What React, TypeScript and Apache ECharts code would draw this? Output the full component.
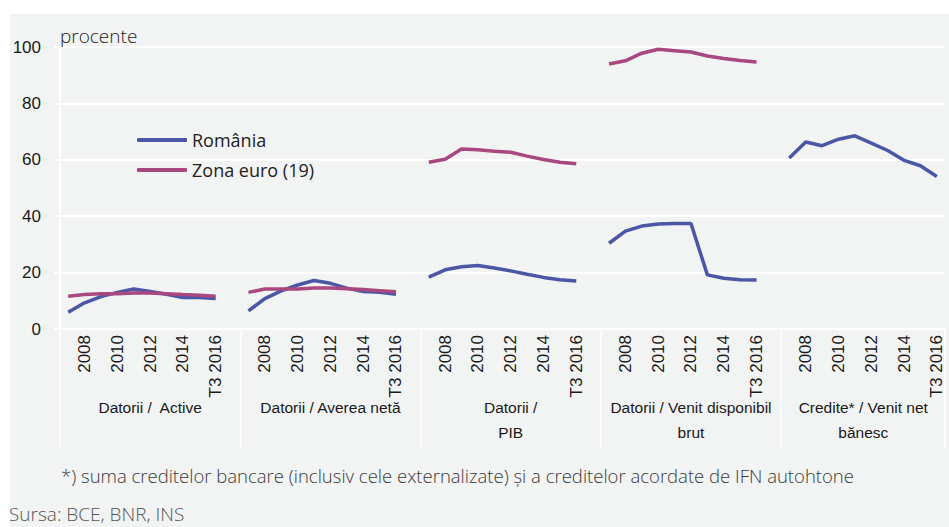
import React, { useEffect, useRef } from "react";
import * as echarts from "echarts";

// Years shown in each panel (2007 is unlabeled in the reference)
const years = ["2007", "2008", "2009", "2010", "2011", "2012", "2013", "2014", "2015", "T3 2016"];
const groupNames = [
  "Datorii /  Active",
  "Datorii / Averea netă",
  "Datorii /\nPIB",
  "Datorii / Venit disponibil\nbrut",
  "Credite* / Venit net\nbănesc",
];

// România
const roActive = [5.9, 9.3, 11.5, 13.0, 14.2, 13.3, 12.3, 11.2, 11.2, 10.8];
const roNet = [6.4, 10.8, 13.5, 15.6, 17.2, 16.2, 14.5, 13.3, 13.0, 12.3];
const roPib = [18.4, 21.0, 22.1, 22.5, 21.6, 20.6, 19.4, 18.3, 17.5, 17.0];
const roVdb = [30.4, 34.7, 36.5, 37.2, 37.4, 37.4, 19.2, 18.0, 17.5, 17.4];
const roCredit = [60.6, 66.3, 65.0, 67.3, 68.5, 65.9, 63.3, 59.8, 57.9, 54.1];

// Zona euro (19)
const euActive = [11.6, 12.2, 12.5, 12.5, 12.8, 12.8, 12.5, 12.2, 12.0, 11.6];
const euNet = [13.0, 14.2, 14.2, 14.2, 14.5, 14.5, 14.3, 14.0, 13.6, 13.2];
const euPib = [59.1, 60.2, 63.8, 63.6, 63.0, 62.7, 61.3, 60.1, 59.1, 58.6];
const euVdb = [94.0, 95.1, 97.8, 99.2, 98.7, 98.2, 96.8, 95.9, 95.2, 94.7];
const euCredit: (number | null)[] = [null, null, null, null, null, null, null, null, null, null];

const GROUP = 11; // 10 years + 1 empty gap slot

function joinGroups(groups: (number | null)[][]): (number | null)[] {
  const out: (number | null)[] = [];
  groups.forEach((g, i) => {
    out.push(...g);
    if (i < groups.length - 1) out.push(null);
  });
  return out;
}

const categories: string[] = [];
const groupAxis: string[] = [];
for (let g = 0; g < 5; g++) {
  years.forEach((y, i) => {
    categories.push(y);
    groupAxis.push(i === 5 ? (g === 4 ? "{g5|" + groupNames[g].split("\n").join("}\n{g5|") + "}" : groupNames[g]) : "");
  });
  if (g < 4) {
    categories.push("");
    groupAxis.push("");
  }
}

const roSeries = joinGroups([roActive, roNet, roPib, roVdb, roCredit]);
const euSeries = joinGroups([euActive, euNet, euPib, euVdb, euCredit]);

const BLUE = "#4b56a6";
const MAGENTA = "#a9477f";
const NARROW = "'Liberation Sans Narrow', 'Arial Narrow', sans-serif";
const SANS = "'Open Sans', 'Noto Sans', sans-serif";

export default function App() {
  const ref = useRef<HTMLDivElement>(null);
  useEffect(() => {
    if (!ref.current) return;
    const chart = echarts.init(ref.current, undefined, { renderer: "svg" });
    chart.setOption({
      animation: false,
      backgroundColor: "transparent",
      title: [
        {
          text: "procente",
          left: 55,
          top: 21,
          textStyle: { fontFamily: SANS, fontSize: 19, fontWeight: 300, color: "#222" },
        },
        {
          text: "*) suma creditelor bancare (inclusiv cele externalizate) și a creditelor acordate de IFN autohtone",
          left: 56,
          top: 461,
          textStyle: { fontFamily: SANS, fontSize: 18.5, fontWeight: 300, color: "#3a3a3a" },
        },
        {
          text: "Sursa: BCE, BNR, INS",
          left: 4,
          top: 499,
          textStyle: { fontFamily: SANS, fontSize: 19, fontWeight: 300, color: "#555" },
        },
      ],
      legend: {
        orient: "vertical",
        left: 132,
        top: 125,
        itemWidth: 50,
        itemHeight: 4,
        itemGap: 10,
        icon: "roundRect",
        textStyle: { fontFamily: SANS, fontSize: 18, color: "#222", lineHeight: 20 },
        data: ["România", "Zona euro (19)"],
      },
      grid: { left: 60, right: 4, top: 47, bottom: 198, containLabel: false },
      xAxis: [
        {
          type: "category",
          data: categories,
          boundaryGap: true,
          axisLine: { show: true, lineStyle: { color: "#ffffff", width: 2 } },
          axisTick: {
            show: true,
            length: 118,
            lineStyle: { color: "#ffffff", width: 1.5 },
            interval: (index: number) => index % GROUP === 0 || index === categories.length,
          },
          axisLabel: {
            rotate: 90,
            margin: 6,
            fontFamily: NARROW,
            fontSize: 17,
            color: "#1a1a1a",
            interval: (index: number) => {
              const k = index % GROUP;
              return k < 10 && k % 2 === 1;
            },
          },
          splitLine: { show: false },
        },
        {
          type: "category",
          data: groupAxis,
          position: "bottom",
          boundaryGap: true,
          axisLine: { show: false },
          axisTick: { show: false },
          axisLabel: {
            interval: 0,
            margin: 66,
            fontFamily: NARROW,
            fontSize: 15.5,
            lineHeight: 25,
            color: "#1a1a1a",
            rich: {
              g5: { fontFamily: NARROW, fontSize: 15.5, lineHeight: 25, color: "#1a1a1a", padding: [0, 16, 0, 0] },
            },
          },
        },
      ],
      yAxis: {
        type: "value",
        min: 0,
        max: 100,
        interval: 20,
        axisLine: { show: true, lineStyle: { color: "#ffffff", width: 2 } },
        axisTick: { show: true, length: 6, lineStyle: { color: "#ffffff", width: 2 } },
        axisLabel: { margin: 19, fontFamily: NARROW, fontSize: 17, color: "#1a1a1a" },
        splitLine: { show: true, lineStyle: { color: "#ffffff", width: 2 } },
      },
      series: [
        {
          name: "România",
          type: "line",
          data: roSeries,
          symbol: "none",
          connectNulls: false,
          lineStyle: { color: BLUE, width: 3.5 },
          itemStyle: { color: BLUE },
        },
        {
          name: "Zona euro (19)",
          type: "line",
          data: euSeries,
          symbol: "none",
          connectNulls: false,
          lineStyle: { color: MAGENTA, width: 3.5 },
          itemStyle: { color: MAGENTA },
        },
      ],
    });
    return () => chart.dispose();
  }, []);

  return (
    <div style={{ position: "absolute", left: 0, top: 0, width: 949, height: 527, background: "#ffffff", overflow: "hidden" }}>
      <div style={{ position: "absolute", left: 10, top: 14, width: 939, height: 513, background: "#f2f3f3" }} />
      <div ref={ref} style={{ position: "absolute", left: 0, top: 0, width: 949, height: 527 }} />
    </div>
  );
}
